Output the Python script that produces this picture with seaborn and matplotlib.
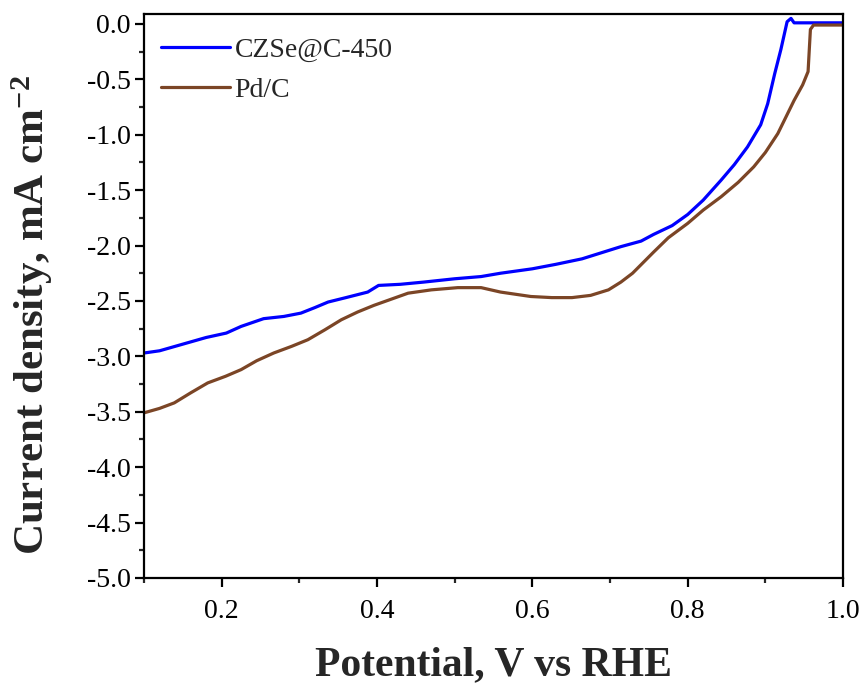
import matplotlib
matplotlib.use("Agg")
import matplotlib.pyplot as plt
import seaborn as sns
import pandas as pd
from matplotlib.ticker import MultipleLocator

# ---- data ----
czse_x = [0.100, 0.120, 0.140, 0.160, 0.180, 0.206, 0.225, 0.254, 0.280, 0.302,
          0.320, 0.337, 0.360, 0.388, 0.402, 0.430, 0.460, 0.500, 0.534, 0.559,
          0.600, 0.630, 0.664, 0.714, 0.740, 0.756, 0.780, 0.800, 0.820, 0.843,
          0.860, 0.877, 0.894, 0.903, 0.912, 0.920, 0.928, 0.933, 0.937, 0.960,
          1.000]
czse_y = [-2.97, -2.95, -2.91, -2.87, -2.83, -2.79, -2.73, -2.66, -2.64, -2.61,
          -2.56, -2.51, -2.47, -2.42, -2.36, -2.35, -2.33, -2.30, -2.28, -2.25,
          -2.21, -2.17, -2.12, -2.01, -1.96, -1.90, -1.82, -1.72, -1.59, -1.41,
          -1.27, -1.11, -0.91, -0.72, -0.45, -0.23, 0.02, 0.05, 0.01, 0.01,
          0.01]

pdc_x = [0.100, 0.120, 0.139, 0.160, 0.182, 0.205, 0.225, 0.245, 0.267, 0.290,
         0.311, 0.333, 0.354, 0.375, 0.396, 0.420, 0.440, 0.470, 0.504, 0.534,
         0.559, 0.598, 0.625, 0.651, 0.675, 0.698, 0.714, 0.729, 0.756, 0.775,
         0.800, 0.820, 0.843, 0.865, 0.885, 0.900, 0.916, 0.937, 0.948, 0.955,
         0.958, 0.962, 1.000]
pdc_y = [-3.51, -3.47, -3.42, -3.33, -3.24, -3.18, -3.12, -3.04, -2.97, -2.91,
         -2.85, -2.76, -2.67, -2.60, -2.54, -2.48, -2.43, -2.40, -2.38, -2.38,
         -2.42, -2.46, -2.47, -2.47, -2.45, -2.40, -2.33, -2.25, -2.06, -1.93,
         -1.80, -1.68, -1.56, -1.43, -1.29, -1.16, -0.99, -0.69, -0.55, -0.43,
         -0.05, -0.01, -0.01]

series_names = ["CZSe@C-450", "Pd/C"]
series_colors = ["#0000ff", "#7b4526"]

df = pd.concat([
    pd.DataFrame({"Potential": czse_x, "Current": czse_y, "Sample": series_names[0]}),
    pd.DataFrame({"Potential": pdc_x, "Current": pdc_y, "Sample": series_names[1]}),
], ignore_index=True)

sns.set_style("ticks")
plt.rcParams["font.family"] = ["Liberation Serif", "DejaVu Serif"]
plt.rcParams["mathtext.fontset"] = "custom"
plt.rcParams["mathtext.rm"] = "Liberation Serif"
plt.rcParams["mathtext.bf"] = "Liberation Serif:bold"

fig = plt.figure(figsize=(8.65, 6.88), dpi=100)
ax = fig.add_axes([0.1665, 0.160, 0.8081, 0.8197])

sns.lineplot(data=df, x="Potential", y="Current", hue="Sample",
             palette=dict(zip(series_names, series_colors)),
             sort=False, estimator=None, linewidth=2.3, ax=ax)

ax.set_xlim(0.1, 1.0)
ax.set_ylim(-5.0, 0.09)
ax.xaxis.set_minor_locator(MultipleLocator(0.1))
ax.yaxis.set_minor_locator(MultipleLocator(0.25))
ax.set_xticks([0.2, 0.4, 0.6, 0.8, 1.0])
ax.set_xticklabels(["0.2", "0.4", "0.6", "0.8", "1.0"])
ax.set_yticks([0.0, -0.5, -1.0, -1.5, -2.0, -2.5, -3.0, -3.5, -4.0, -4.5, -5.0])
ax.set_yticklabels(["0.0", "-0.5", "-1.0", "-1.5", "-2.0", "-2.5", "-3.0",
                    "-3.5", "-4.0", "-4.5", "-5.0"])

ax.tick_params(axis="both", which="major", direction="out", length=6.5, width=1.6,
               labelsize=20, colors="black", pad=3)
ax.tick_params(axis="both", which="minor", direction="out", length=3.5, width=1.6)
ax.tick_params(axis="x", which="major", pad=9)
for s in ax.spines.values():
    s.set_linewidth(1.6)
    s.set_color("black")

ax.set_xlabel("Potential, V vs RHE", fontsize=30, fontweight="bold", labelpad=16)
ax.set_ylabel("Current density, mA cm$\\mathbf{^{-2}}$", fontsize=31,
              fontweight="bold")
ax.yaxis.set_label_coords(-0.127, 0.466)

leg = ax.legend(loc="upper left", frameon=False, fontsize=20, handlelength=2.45,
                handletextpad=0.18, borderaxespad=0.0, borderpad=0.0,
                labelspacing=0.52, bbox_to_anchor=(0.025, 0.958))
for line in leg.get_lines():
    line.set_linewidth(2.3)

fig.savefig("out.png", dpi=100, facecolor="white")
